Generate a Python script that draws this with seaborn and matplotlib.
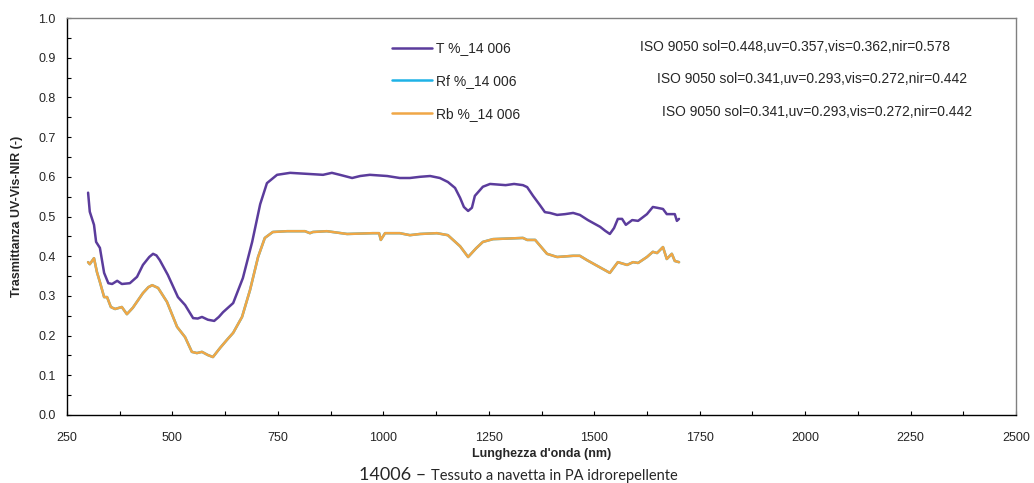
import numpy as np
import pandas as pd
import matplotlib
matplotlib.use("Agg")
import matplotlib.pyplot as plt
from matplotlib.ticker import MultipleLocator
import seaborn as sns

# Transmittance spectrum (T) and reflectance spectra (Rf front, Rb back)
t_nm = [300, 304, 314, 319, 328, 338, 348, 357, 369, 380, 399, 416, 430, 445, 454, 462,
        470, 489, 513, 530, 549, 560, 570, 584, 599, 610, 620, 644, 667, 689, 708, 724,
        748, 779, 826, 857, 878, 897, 926, 945, 968, 1009, 1039, 1063, 1087, 1111, 1134,
        1153, 1170, 1182, 1191, 1201, 1210, 1217, 1236, 1253, 1290, 1310, 1331, 1341,
        1355, 1371, 1383, 1395, 1412, 1431, 1450, 1466, 1485, 1502, 1514, 1526, 1537,
        1547, 1556, 1566, 1575, 1590, 1604, 1625, 1639, 1649, 1663, 1672, 1684, 1691,
        1696, 1701]
t_val = [0.560, 0.512, 0.479, 0.436, 0.421, 0.358, 0.332, 0.330, 0.338, 0.330, 0.332,
         0.348, 0.378, 0.398, 0.406, 0.402, 0.390, 0.353, 0.297, 0.277, 0.244, 0.243,
         0.247, 0.240, 0.237, 0.247, 0.259, 0.282, 0.345, 0.436, 0.531, 0.584, 0.605,
         0.610, 0.607, 0.605, 0.610, 0.605, 0.597, 0.602, 0.605, 0.602, 0.597, 0.597,
         0.600, 0.602, 0.597, 0.587, 0.572, 0.547, 0.524, 0.514, 0.522, 0.552, 0.575,
         0.582, 0.579, 0.582, 0.579, 0.574, 0.552, 0.529, 0.511, 0.509, 0.504, 0.506,
         0.509, 0.504, 0.491, 0.481, 0.474, 0.464, 0.456, 0.471, 0.494, 0.494, 0.479,
         0.491, 0.489, 0.506, 0.524, 0.522, 0.519, 0.506, 0.506, 0.506, 0.489, 0.494]

r_nm = [300, 304, 314, 321, 328, 338, 345, 354, 364, 380, 392, 406, 430, 443, 452, 466,
        487, 511, 530, 546, 558, 570, 584, 596, 613, 629, 644, 665, 684, 703, 719, 738,
        772, 814, 826, 833, 866, 914, 975, 990, 994, 1004, 1039, 1063, 1087, 1127, 1153,
        1182, 1201, 1220, 1236, 1260, 1331, 1341, 1360, 1388, 1412, 1450, 1466, 1483,
        1537, 1556, 1578, 1592, 1604, 1625, 1639, 1649, 1663, 1672, 1684, 1691, 1701]
rf_val = [0.385, 0.380, 0.395, 0.360, 0.335, 0.297, 0.297, 0.272, 0.267, 0.272, 0.254,
          0.270, 0.307, 0.322, 0.327, 0.320, 0.285, 0.222, 0.196, 0.159, 0.156, 0.159,
          0.151, 0.146, 0.169, 0.189, 0.207, 0.247, 0.315, 0.398, 0.446, 0.461, 0.463,
          0.463, 0.458, 0.461, 0.463, 0.456, 0.458, 0.458, 0.441, 0.458, 0.458, 0.453,
          0.456, 0.458, 0.453, 0.425, 0.398, 0.420, 0.436, 0.443, 0.446, 0.441, 0.441,
          0.406, 0.398, 0.401, 0.401, 0.390, 0.358, 0.385, 0.378, 0.385, 0.383, 0.398,
          0.411, 0.408, 0.423, 0.393, 0.406, 0.388, 0.385]
rb_val = list(rf_val)

series_labels = ["T %_14 006", "Rf %_14 006", "Rb %_14 006"]
iso_labels = ["ISO 9050 sol=0.448,uv=0.357,vis=0.362,nir=0.578",
              "ISO 9050 sol=0.341,uv=0.293,vis=0.272,nir=0.442",
              "ISO 9050 sol=0.341,uv=0.293,vis=0.272,nir=0.442"]
colors = ["#5b3c9c", "#1fb2e6", "#f0a746"]

df = pd.concat([
    pd.DataFrame({"nm": t_nm, "val": t_val, "serie": series_labels[0]}),
    pd.DataFrame({"nm": r_nm, "val": rf_val, "serie": series_labels[1]}),
    pd.DataFrame({"nm": r_nm, "val": rb_val, "serie": series_labels[2]}),
], ignore_index=True)

sns.set_theme(style="white")
plt.rcParams["font.family"] = ["Liberation Sans", "DejaVu Sans"]

fig = plt.figure(figsize=(10.34, 4.83), dpi=100)
ax = fig.add_axes([0.0648, 0.1408, 0.9178, 0.8219])

sns.lineplot(data=df, x="nm", y="val", hue="serie", hue_order=series_labels,
             palette=colors, linewidth=1.8, ax=ax, sort=False, estimator=None)

ax.set_xlim(250, 2500)
ax.set_ylim(0, 1.0)
ax.xaxis.set_major_locator(MultipleLocator(250))
ax.xaxis.set_minor_locator(MultipleLocator(125))
ax.yaxis.set_major_locator(MultipleLocator(0.1))
ax.yaxis.set_minor_locator(MultipleLocator(0.05))
ax.yaxis.set_major_formatter(matplotlib.ticker.FormatStrFormatter("%.1f"))
ax.tick_params(which="both", direction="in", length=3, width=0.8, color="black",
               labelsize=9, pad=8, left=True, bottom=True)
ax.tick_params(axis="x", pad=12)

for side in ["left", "bottom"]:
    ax.spines[side].set_color("black")
    ax.spines[side].set_linewidth(1.0)
for side in ["top", "right"]:
    ax.spines[side].set_color("#808080")
    ax.spines[side].set_linewidth(1.0)

ax.set_xlabel("Lunghezza d'onda (nm)", fontsize=9, fontweight="bold", labelpad=3)
ax.set_ylabel("Trasmittanza UV-Vis-NIR (-)", fontsize=9, fontweight="bold", labelpad=11)

leg = ax.legend(loc="upper left", bbox_to_anchor=(0.3365, 0.955), frameon=False,
                fontsize=10, handlelength=2.9, handletextpad=0.3, labelspacing=1.35,
                borderaxespad=0)

iso_x = [0.604, 0.622, 0.627]
iso_y = [0.927, 0.846, 0.763]
for x, y, s in zip(iso_x, iso_y, iso_labels):
    ax.text(x, y, s, transform=ax.transAxes, fontsize=10, va="center", ha="left")

fig.text(0.417, 0.006, "14006 \u2013 ", fontsize=13, family=["Lato", "DejaVu Sans"],
         ha="right", va="baseline")
fig.text(0.417, 0.006, "Tessuto a navetta in PA idrorepellente", fontsize=10.5,
         family=["Lato", "DejaVu Sans"], ha="left", va="baseline")

fig.savefig("out.png", dpi=100, facecolor="white")
